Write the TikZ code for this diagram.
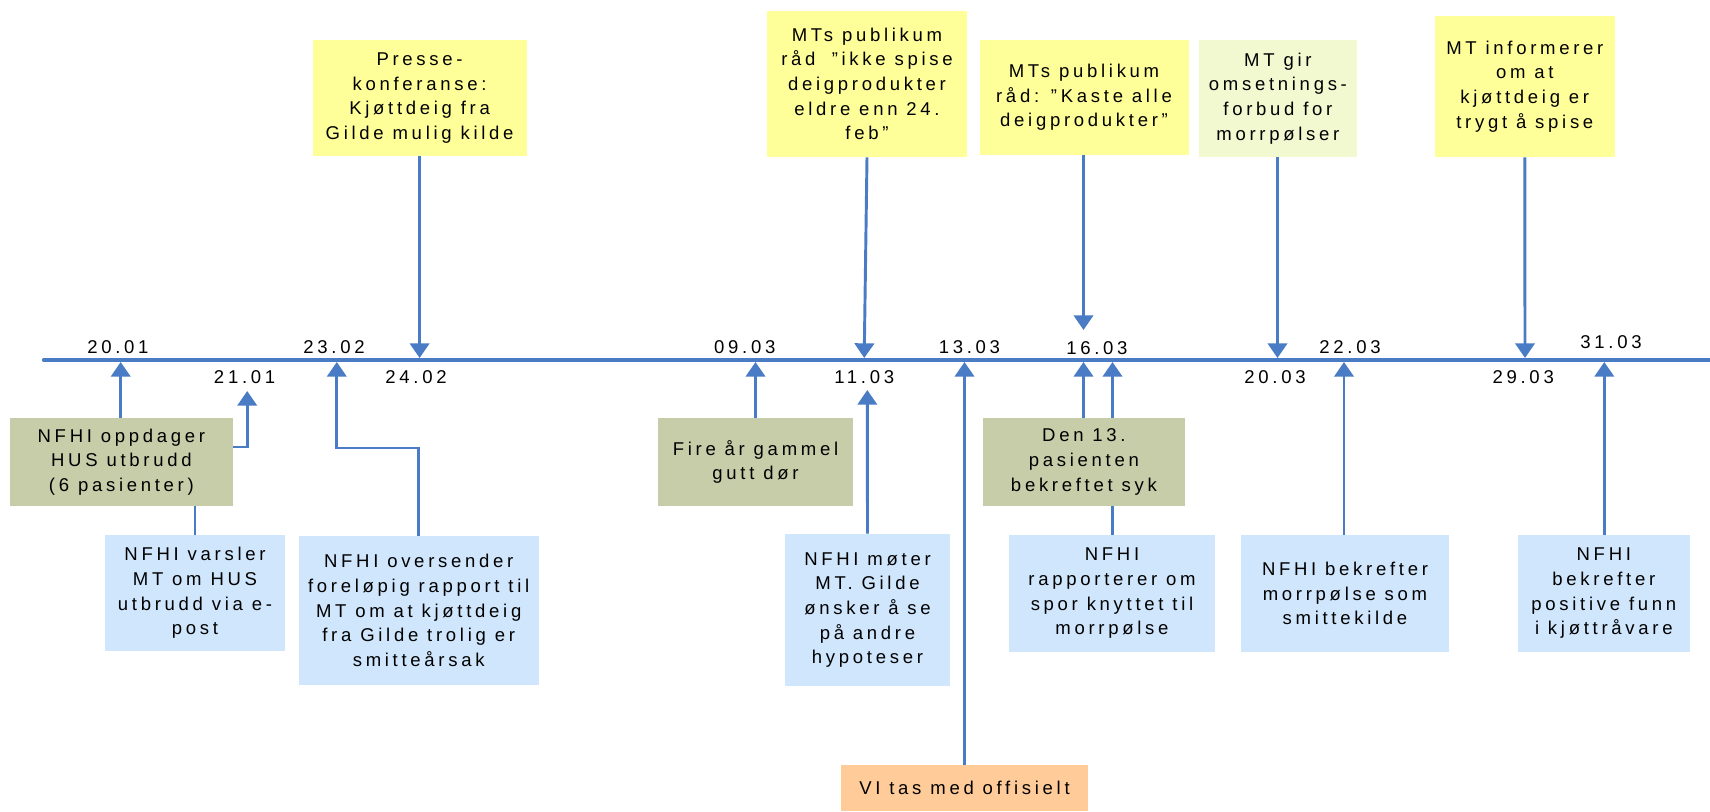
\documentclass[tikz,border=0pt]{standalone}
\usepackage{fontspec}
\setmainfont{Liberation Sans}[LetterSpace=20,Ligatures=NoCommon]
\usetikzlibrary{arrows.meta,backgrounds}
\definecolor{lineblue}{HTML}{4A7CC5}
\definecolor{yel}{HTML}{FFFF99}
\definecolor{paleyel}{HTML}{F2F8D0}
\definecolor{grn}{HTML}{C7CDA8}
\definecolor{lblue}{HTML}{CFE6FC}
\definecolor{orng}{HTML}{FFCC99}
\newdimen\pxu \pxu=0.75pt
\newcommand\tlfont{\fontsize{13.9pt}{18.5pt}\selectfont}
\tikzset{
  box/.style={inner sep=0pt, align=center, font=\tlfont, text=black},
  datelbl/.style={inner sep=0pt, font=\tlfont, text=black},
  conn/.style={draw=lineblue, line width=2.2pt},
  arr/.style={conn, -{Triangle[width=14.5pt,length=11pt]}},
}
\begin{document}
\begin{tikzpicture}[x=0.75pt,y=-0.75pt]
\useasboundingbox (0,0) rectangle (1710,811);

% timeline
\coordinate (tlL) at (43.6,360);
\coordinate (tlR) at (1710,360);
\draw[conn, line width=2.5pt, line cap=round] (tlL) -- (tlR);

% arrow end points on the timeline
\coordinate (t2001) at (120.7,362);
\coordinate (t2101) at (247.2,391);
\coordinate (k2101) at (247.2,447);
\coordinate (t2302) at (336.8,362);
\coordinate (k2302) at (336.8,448);
\coordinate (t2402) at (419.6,358);
\coordinate (t0903) at (755.5,362);
\coordinate (t1103d) at (864.2,358);
\coordinate (t1103u) at (867.3,390);
\coordinate (t1303) at (964.5,362);
\coordinate (t1603d) at (1083.5,330);
\coordinate (t1603a) at (1083.5,362);
\coordinate (t1603b) at (1112.5,362);
\coordinate (t2003) at (1277.5,358);
\coordinate (t2203) at (1344,362);
\coordinate (t2903) at (1525,358);
\coordinate (t3103) at (1604.3,362);

% date labels
\node[datelbl] (d2001) at (117.9,347) {20.01};
\node[datelbl] (d2302) at (334,347) {23.02};
\node[datelbl] (d0903) at (744.8,347) {09.03};
\node[datelbl] (d1303) at (969.4,347) {13.03};
\node[datelbl] (d1603) at (1096.9,348) {16.03};
\node[datelbl] (d2203) at (1350,347) {22.03};
\node[datelbl] (d3103) at (1611,342) {31.03};
\node[datelbl] (d2101) at (244.6,377) {21.01};
\node[datelbl] (d2402) at (416,377) {24.02};
\node[datelbl] (d1103) at (864.2,377) {11.03};
\node[datelbl] (d2003) at (1275,377) {20.03};
\node[datelbl] (d2903) at (1523.2,377) {29.03};

% upper boxes
\node[box, fill=yel, minimum width=214\pxu, minimum height=116\pxu] (presse) at (419.6,98)
  {Presse-\\konferanse:\\Kjøttdeig fra\\Gilde mulig kilde};
\node[box, fill=yel, minimum width=200.5\pxu, minimum height=146\pxu] (mtsA) at (867,84)
  {MTs publikum\\råd\hspace{0.4em} ”ikke spise\\deigprodukter\\eldre enn 24.\\feb”};
\node[box, fill=yel, minimum width=209\pxu, minimum height=115\pxu] (mtsB) at (1084,97.5)
  {MTs publikum\\råd: ”Kaste alle\\deigprodukter”};
\node[box, fill=paleyel, minimum width=158\pxu, minimum height=117\pxu] (mtgir) at (1277.9,98.5)
  {MT gir\\omsetnings-\\forbud for\\morrpølser};
\node[box, fill=yel, minimum width=179.6\pxu, minimum height=141\pxu] (mtinf) at (1524.8,86.5)
  {MT informerer\\om at\\kjøttdeig er\\trygt å spise};

% lower boxes
\node[box, fill=grn, minimum width=222.9\pxu, minimum height=88\pxu] (oppdager) at (121.4,462)
  {NFHI oppdager\\HUS utbrudd\\(6 pasienter)};
\node[box, fill=lblue, minimum width=180\pxu, minimum height=116\pxu] (varsler) at (195,593)
  {NFHI varsler\\MT om HUS\\utbrudd via e-\\post};
\node[box, fill=lblue, minimum width=239.7\pxu, minimum height=149\pxu] (oversender) at (418.7,610.5)
  {NFHI oversender\\foreløpig rapport til\\MT om at kjøttdeig\\fra Gilde trolig er\\smitteårsak};
\node[box, fill=grn, minimum width=195\pxu, minimum height=88\pxu] (fire) at (755.5,462)
  {Fire år gammel\\gutt dør};
\node[box, fill=lblue, minimum width=165\pxu, minimum height=152\pxu] (moter) at (867.5,610)
  {NFHI møter\\MT. Gilde\\ønsker å se\\på andre\\hypoteser};
\node[box, fill=orng, minimum width=247\pxu, minimum height=46\pxu] (vitas) at (964.5,788)
  {VI tas med offisielt};
\node[box, fill=grn, minimum width=202\pxu, minimum height=88\pxu] (den13) at (1083.9,462)
  {Den 13.\\pasienten\\bekreftet syk};
\node[box, fill=lblue, minimum width=206\pxu, minimum height=117\pxu] (rapp) at (1112,593.5)
  {NFHI\\rapporterer om\\spor knyttet til\\morrpølse};
\node[box, fill=lblue, minimum width=208\pxu, minimum height=117\pxu] (bekmorr) at (1345,593.5)
  {NFHI bekrefter\\morrpølse som\\smittekilde};
\node[box, fill=lblue, minimum width=172\pxu, minimum height=117\pxu] (bekpos) at (1603.8,593.5)
  {NFHI\\bekrefter\\positive funn\\i kjøttråvare};

% connectors
\begin{scope}[on background layer]
\draw[arr] (oppdager.north -| t2001) -- (t2001);
\draw[arr] (varsler.north) |- (k2101) -- (t2101);
\draw[arr] (oversender.north) |- (k2302) -- (t2302);
\draw[arr] (presse.south) -- (t2402);
\draw[arr] (fire.north) -- (t0903);
\draw[arr] (mtsA.south) -- (t1103d);
\draw[arr] (moter.north) -- (t1103u);
\draw[arr] (vitas.north) -- (t1303);
\draw[arr] (mtsB.south -| t1603d) -- (t1603d);
\draw[arr] (den13.north -| t1603a) -- (t1603a);
\draw[arr] (rapp.north -| t1603b) -- (t1603b);
\draw[arr] (mtgir.south -| t2003) -- (t2003);
\draw[arr] (bekmorr.north -| t2203) -- (t2203);
\draw[arr] (mtinf.south) -- (t2903);
\draw[arr] (bekpos.north -| t3103) -- (t3103);
\end{scope}
\end{tikzpicture}
\end{document}
